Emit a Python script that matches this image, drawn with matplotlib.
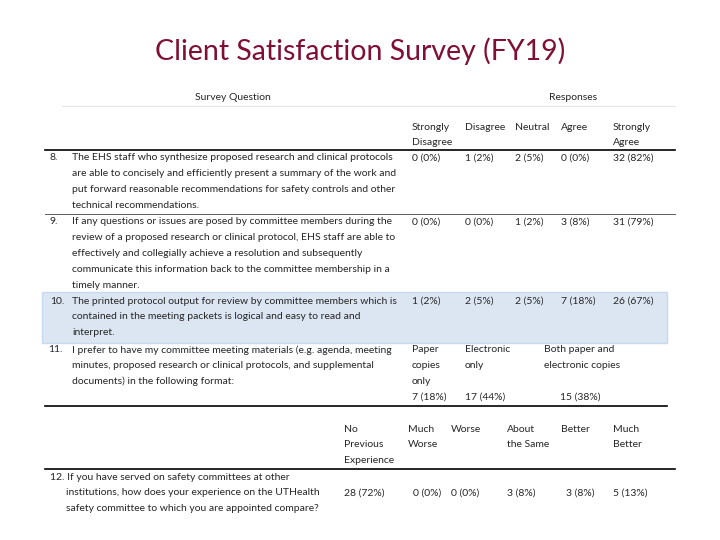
import matplotlib.pyplot as plt
from matplotlib.patches import Rectangle

plt.rcParams['font.family'] = ['Lato', 'DejaVu Sans']

title = 'Client Satisfaction Survey (FY19)'

agree_labels = ['Strongly\nDisagree', 'Disagree', 'Neutral', 'Agree', 'Strongly\nAgree']
q8 = ['The EHS staff who synthesize proposed research and clinical protocols',
      'are able to concisely and efficiently present a summary of the work and',
      'put forward reasonable recommendations for safety controls and other',
      'technical recommendations.']
q9 = ['If any questions or issues are posed by committee members during the',
      'review of a proposed research or clinical protocol, EHS staff are able to',
      'effectively and collegially achieve a resolution and subsequently',
      'communicate this information back to the committee membership in a',
      'timely manner.']
q10 = ['The printed protocol output for review by committee members which is',
       'contained in the meeting packets is logical and easy to read and',
       'interpret.']
counts_q8 = [0, 1, 2, 0, 32]
pct_q8 = [0, 2, 5, 0, 82]
counts_q9 = [0, 0, 1, 3, 31]
pct_q9 = [0, 0, 2, 8, 79]
counts_q10 = [1, 2, 2, 7, 26]
pct_q10 = [2, 5, 5, 18, 67]

q11 = ['I prefer to have my committee meeting materials (e.g. agenda, meeting',
       'minutes, proposed research or clinical protocols, and supplemental',
       'documents) in the following format:']
format_labels = ['Paper\ncopies\nonly', 'Electronic\nonly', 'Both paper and\nelectronic copies']
counts_q11 = [7, 17, 15]
pct_q11 = [18, 44, 38]

q12 = ['12. If you have served on safety committees at other',
       'institutions, how does your experience on the UTHealth',
       'safety committee to which you are appointed compare?']
compare_labels = ['No\nPrevious\nExperience', 'Much\nWorse', 'Worse', 'About\nthe Same',
                  'Better', 'Much\nBetter']
counts_q12 = [28, 0, 0, 3, 3, 5]
pct_q12 = [72, 0, 0, 8, 8, 13]

fig = plt.figure(figsize=(7.2, 5.4), dpi=100)
ax = fig.add_axes([0, 0, 1, 1])
ax.set_xlim(0, 720)
ax.set_ylim(540, 0)
ax.axis('off')

fs = 7.5
lh = 15.8
txt = '#262626'


def put(x, y, s, **kw):
    # multi-line text, one line every lh pixels
    for i, line in enumerate(s.split('\n')):
        ax.text(x, y + i * lh, line, ha='left', va='center', fontsize=fs, color=txt, **kw)


ax.text(360, 51, title, ha='center', va='center', fontsize=20.5, color='#7F1034')

ax.text(233, 97, 'Survey Question', ha='center', va='center', fontsize=fs, color=txt)
ax.text(573, 97, 'Responses', ha='center', va='center', fontsize=fs, color=txt)
ax.plot([62, 675], [106, 106], color='#e6e6e6', lw=0.8)

col_x = [412, 465, 515, 561, 613]
for x, lab in zip(col_x, agree_labels):
    put(x, 127, lab)
ax.plot([45, 675], [150, 150], color='black', lw=1.2)

# highlighted row 10
ax.add_patch(Rectangle((42, 292), 625, 51, facecolor='#dce6f2', edgecolor='#c6d9f0', lw=1))


def row(num, lines, y0, counts, pcts):
    ax.text(50, y0, num, ha='left', va='center', fontsize=fs, color=txt)
    put(72, y0, '\n'.join(lines))
    for x, c, p in zip(col_x, counts, pcts):
        put(x, y0, f'{c} ({p}%)')


row('8.', q8, 158, counts_q8, pct_q8)
ax.plot([45, 675], [214, 214], color='#404040', lw=0.6)
row('9.', q9, 222, counts_q9, pct_q9)
row('10.', q10, 301, counts_q10, pct_q10)

ax.text(48, 350, '11.', ha='left', va='center', fontsize=fs, color=txt)
put(72, 350, '\n'.join(q11))
fmt_x = [412, 465, 544]
fmt_val_x = [412, 465, 560]
for x, xv, lab, c, p in zip(fmt_x, fmt_val_x, format_labels, counts_q11, pct_q11):
    put(x, 350, lab)
    put(xv, 397, f'{c} ({p}%)')
ax.plot([45, 667], [406, 406], color='black', lw=1.2)

cmp_x = [344, 408, 451, 507, 561, 613]
cmp_val_x = [344, 413, 451, 507, 566, 613]
for x, lab in zip(cmp_x, compare_labels):
    put(x, 429, lab)
ax.plot([45, 675], [469, 469], color='black', lw=1.2)

put(50, 477, q12[0])
put(66, 477 + lh, '\n'.join(q12[1:]))
for x, c, p in zip(cmp_val_x, counts_q12, pct_q12):
    put(x, 493, f'{c} ({p}%)')

fig.savefig('out.png', dpi=100)
